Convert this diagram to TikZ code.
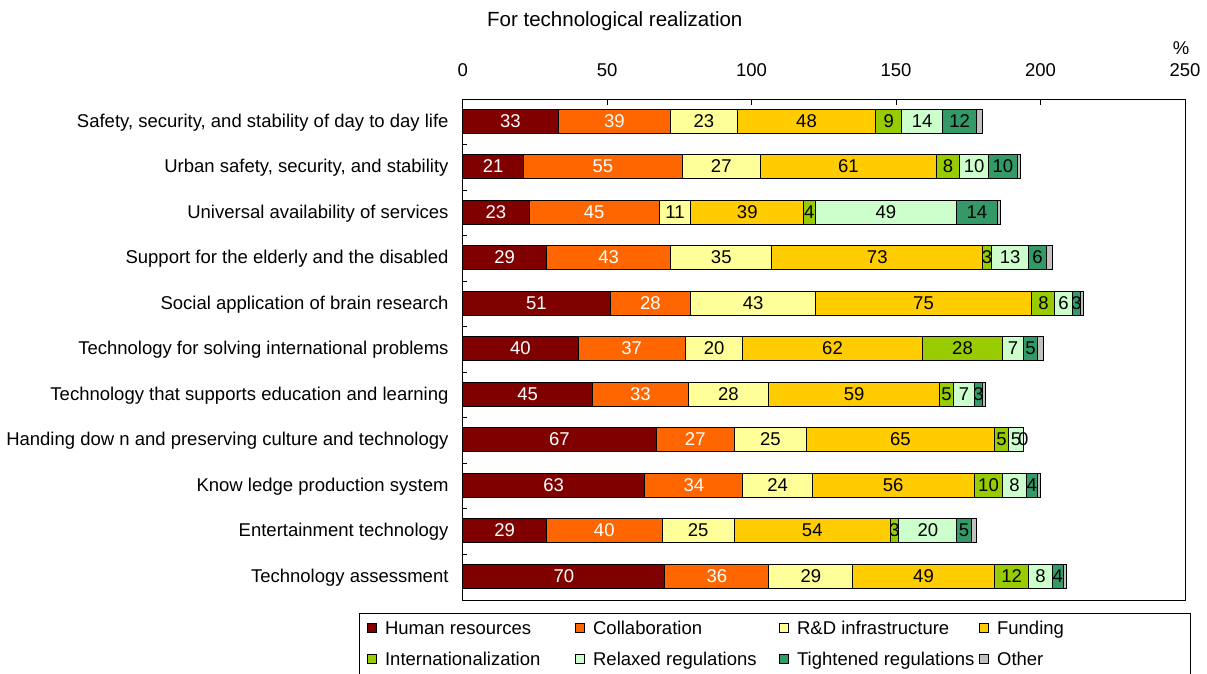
\documentclass[tikz,border=0pt]{standalone}
\usepackage{fontspec}
\setmainfont{Liberation Sans}
\usetikzlibrary{positioning}

% bar colours (one per cause) and the colour of the numbers on them
\definecolor{c1}{RGB}{128,0,0}
\definecolor{c2}{RGB}{255,102,0}
\definecolor{c3}{RGB}{255,255,153}
\definecolor{c4}{RGB}{255,204,0}
\definecolor{c5}{RGB}{153,204,0}
\definecolor{c6}{RGB}{204,255,204}
\definecolor{c7}{RGB}{51,153,102}
\definecolor{c8}{RGB}{192,192,192}
\colorlet{t1}{white}
\colorlet{t2}{white}
\colorlet{t3}{black}
\colorlet{t4}{black}
\colorlet{t5}{black}
\colorlet{t6}{black}
\colorlet{t7}{black}
\colorlet{t8}{black}

\tikzset{
  lbl/.style={font=\fontsize{18.5}{20}\selectfont, inner sep=0pt, text height=12.5pt, text depth=0pt},
  seg/.style={draw=black, line width=1pt},
  keybox/.style={draw=black, line width=0.8pt, minimum size=9pt, inner sep=0pt},
}

\begin{document}
\begin{tikzpicture}[x=1pt,y=-1pt]
\useasboundingbox (0,0) rectangle (1207,673);

% Text Node
\node[lbl, anchor=west, font=\fontsize{20.5}{22}\selectfont] (title) at (487,20) {For technological realization};
% Text Node
\node[lbl] (pct) at (1181,48) {\%};

\begin{scope}[xshift=462.7pt, x=2.889pt]
%Plot frame and ticks
\draw[line width=0.9pt] (0,99.3) rectangle (250,600);
\foreach \t in {50,100,150,200}
  \draw[line width=0.9pt] (\t,99.3) -- (\t,104.5);
\foreach \t in {0,50,...,250}
  \node[lbl] (t\t) at (\t,70) {\t};
\foreach \k in {1,...,10}
  \draw[line width=0.9pt] (0,{99.3+45.5*\k}) -- ++(4pt,0);

%Bars
\foreach \cat/\vals [count=\r] in {
  {Safety, security, and stability of day to day life}/{33,39,23,48,9,14,12,2},
  {Urban safety, security, and stability}/{21,55,27,61,8,10,10,1},
  {Universal availability of services}/{23,45,11,39,4,49,14,1},
  {Support for the elderly and the disabled}/{29,43,35,73,3,13,6,2},
  {Social application of brain research}/{51,28,43,75,8,6,3,1},
  {Technology for solving international problems}/{40,37,20,62,28,7,5,2},
  {Technology that supports education and learning}/{45,33,28,59,5,7,3,1},
  {Handing dow n and preserving culture and technology}/{67,27,25,65,5,5,0,0},
  {Know ledge production system}/{63,34,24,56,10,8,4,1},
  {Entertainment technology}/{29,40,25,54,3,20,5,2},
  {Technology assessment}/{70,36,29,49,12,8,4,1}}
{
  \pgfmathsetmacro\yc{99.3+45.5*(\r-1)+21.8}
  % Text Node
  \node[lbl, anchor=east, xshift=-14pt] (cat\r) at (0,\yc) {\cat};
  \foreach \v [count=\k, remember=\e as \s (initially 0), evaluate=\v as \e using \s+\v] in \vals {
    \draw[seg, fill=c\k] (\s,\yc-12) rectangle (\e,\yc+12);
    \ifnum\k<8
      \node[lbl, text=t\k] (v\r-\k) at ({(\s+\e)/2},\yc) {\v};
    \fi
  }
}
\end{scope}

%Legend
\draw[line width=0.9pt] (359,613) rectangle (1190,690);
\foreach \n/\px/\py/\name in {
  1/372/628/Human resources, 2/580/628/Collaboration,
  3/784/628/R\&D infrastructure, 4/984/628/Funding,
  5/372/659/Internationalization, 6/580/659/Relaxed regulations,
  7/784/659/Tightened regulations, 8/984/659/Other}
{
  \node[keybox, fill=c\n] (k\n) at (\px,\py) {};
  \node[lbl, right=8pt of k\n] (kt\n) {\name};
}

\end{tikzpicture}
\end{document}
